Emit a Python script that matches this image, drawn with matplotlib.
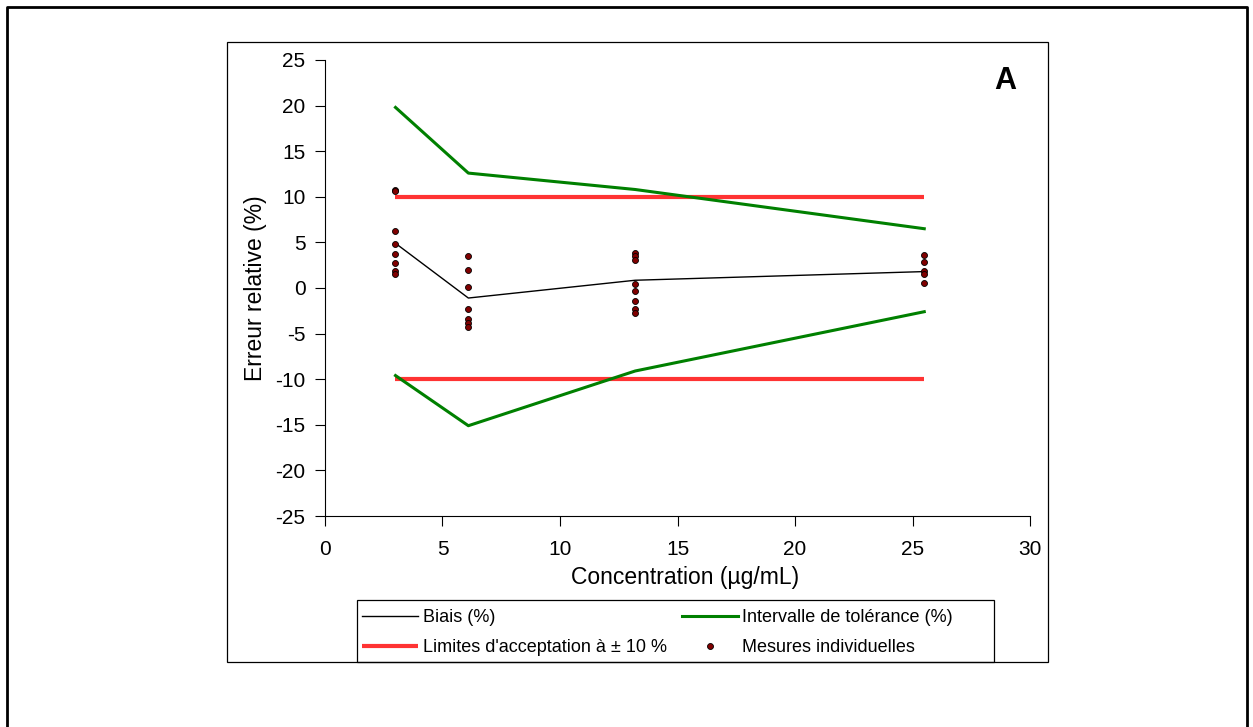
import matplotlib.pyplot as plt
from matplotlib.patches import Rectangle
from matplotlib.lines import Line2D

plt.rcParams['font.family'] = ['Liberation Sans', 'DejaVu Sans']
plt.rcParams['axes.unicode_minus'] = False

# --- data ---
conc = [3.0, 6.1, 13.2, 25.5]
biais = [4.9, -1.1, 0.85, 1.8]
tol_haute = [19.8, 12.6, 10.8, 6.5]
tol_basse = [-9.6, -15.1, -9.1, -2.6]
limite = 10

mesures_3 = [10.8, 10.6, 6.2, 4.8, 3.7, 2.7, 1.9, 1.5]
mesures_6 = [3.5, 1.95, 0.1, -2.35, -3.4, -3.8, -4.25]
mesures_13 = [3.85, 3.5, 3.1, 0.45, -0.35, -1.45, -2.35, -2.7]
mesures_25 = [3.6, 2.9, 1.85, 1.55, 0.55]

W, H = 1253, 727
fig = plt.figure(figsize=(W / 100, H / 100), dpi=100)

# outer frame and chart-area frame
fig.add_artist(Line2D([7 / W, 7 / W, 1247 / W, 1247 / W], [0, 1 - 7 / H, 1 - 7 / H, 0],
                      transform=fig.transFigure, color='black', lw=2.0))
fig.add_artist(Rectangle((227 / W, 1 - 662 / H), (1048 - 227) / W, (662 - 42) / H,
                         transform=fig.transFigure, fill=False, ec='black', lw=0.9))
# legend frame
fig.add_artist(Rectangle((357 / W, 1 - 662 / H), (994 - 357) / W, (662 - 600) / H,
                         transform=fig.transFigure, fill=False, ec='black', lw=0.9))

ax = fig.add_axes([325 / W, 1 - 516 / H, (1030 - 325) / W, (516 - 60) / H])

ax.plot(conc, biais, color='black', lw=1.0, label='Biais (%)')
ax.plot([conc[0], conc[-1]], [limite, limite], color='#ff3333', lw=3.0,
        label="Limites d'acceptation à ± 10 %", solid_capstyle='butt')
ax.plot([conc[0], conc[-1]], [-limite, -limite], color='#ff3333', lw=3.0,
        solid_capstyle='butt')
ax.plot(conc, tol_haute, color='#008000', lw=2.2, label='Intervalle de tolérance (%)')
ax.plot(conc, tol_basse, color='#008000', lw=2.2)

groupes = [mesures_3, mesures_6, mesures_13, mesures_25]
xs, ys = [], []
for c, g in zip(conc, groupes):
    xs += [c] * len(g)
    ys += g
ax.plot(xs, ys, ls='none', marker='o', ms=4.3, mfc='#800000', mec='black', mew=0.6,
        label='Mesures individuelles')

ax.set_xlim(0, 30)
ax.set_ylim(-25, 25)
ax.set_xticks(range(0, 31, 5))
ax.set_yticks(range(-25, 26, 5))
ax.spines['top'].set_visible(False)
ax.spines['right'].set_visible(False)
ax.tick_params(direction='out', length=7, width=0.8, labelsize=15)
ax.tick_params(axis='x', pad=10)
ax.tick_params(axis='y', pad=7)
ax.set_xlabel('Concentration (µg/mL)', fontsize=16.5, labelpad=5, x=0.511)
ax.set_ylabel('Erreur relative (%)', fontsize=16.5, labelpad=6)

ax.text(0.965, 0.955, 'A', transform=ax.transAxes, fontsize=22, fontweight='bold',
        ha='center', va='center')

handles, labels = ax.get_legend_handles_labels()
# column 1 = Biais, Limites ; column 2 = Intervalle, Mesures
leg = fig.legend(handles, labels, ncol=2, loc='upper left',
                 bbox_to_anchor=(357 / W, 1 - 604 / H),
                 fontsize=13, frameon=False, handlelength=3.1, handletextpad=0.25,
                 borderaxespad=0, borderpad=0.3, labelspacing=0.7, columnspacing=0.82)

fig.savefig('out.png', dpi=100)
